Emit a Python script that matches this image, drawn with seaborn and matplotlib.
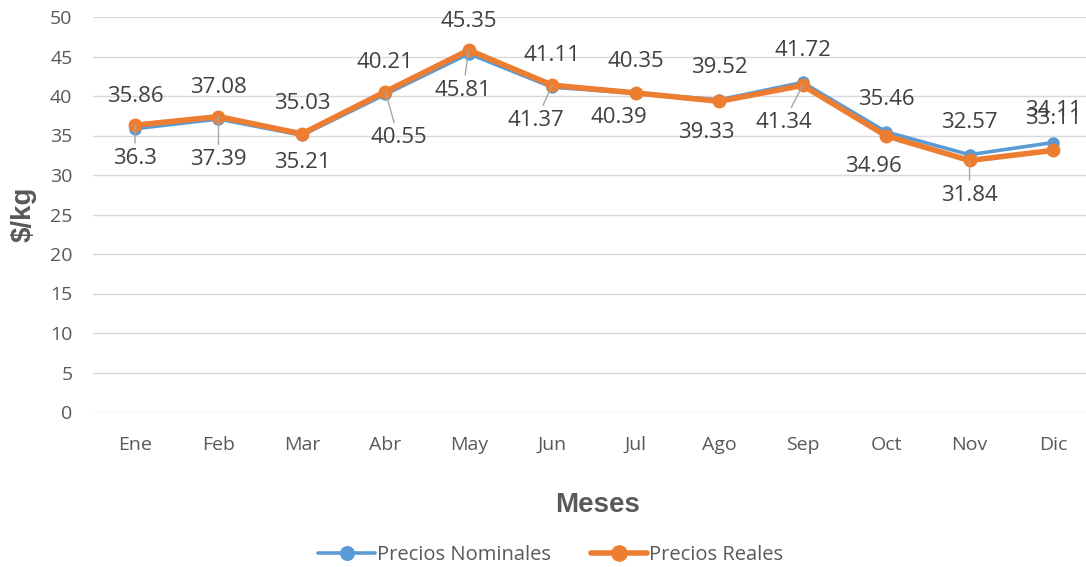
import numpy as np
import pandas as pd
import matplotlib
matplotlib.use('Agg')
import matplotlib.pyplot as plt
import seaborn as sns

# Datos
meses = ['Ene', 'Feb', 'Mar', 'Abr', 'May', 'Jun', 'Jul', 'Ago', 'Sep', 'Oct', 'Nov', 'Dic']
precios_nominales = [35.86, 37.08, 35.03, 40.21, 45.35, 41.11, 40.35, 39.52, 41.72, 35.46, 32.57, 34.11]
precios_reales = [36.3, 37.39, 35.21, 40.55, 45.81, 41.37, 40.39, 39.33, 41.34, 34.96, 31.84, 33.11]

# Posicion de las etiquetas (pixeles) y si llevan linea guia
off_nom = [(0, 32)] * 12
off_real = [(0, -33), (0, -43), (0, -29), (13, -46), (-6, -40), (-16, -35),
            (-17, -25), (-13, -31), (-19, -37), (-13, -31), (0, -35), (0, 32)]
guia_real = [True, True, False, True, True, True, False, False, True, False, True, False]

sns.set_theme(style='white')
plt.rcParams['font.family'] = ['Open Sans', 'DejaVu Sans']

df = pd.DataFrame({
    'pos': np.arange(len(meses)),
    'Precios Nominales': precios_nominales,
    'Precios Reales': precios_reales,
})

fig = plt.figure(figsize=(10.86, 5.67), dpi=100)
ax = fig.add_axes([93.3 / 1086, 155 / 567, 1001.4 / 1086, 395 / 567])

azul = '#5B9BD5'
naranja = '#ED7D31'

sns.lineplot(data=df, x='pos', y='Precios Nominales', ax=ax, color=azul, lw=2.6,
             marker='o', markersize=9, markeredgewidth=0, label='Precios Nominales', sort=False)
sns.lineplot(data=df, x='pos', y='Precios Reales', ax=ax, color=naranja, lw=4,
             marker='o', markersize=10, markeredgewidth=0, label='Precios Reales', sort=False)

ax.set_xlim(-0.5, len(meses) - 0.5)
ax.set_ylim(0, 50)
ax.set_yticks(range(0, 51, 5))
ax.set_xticks(df['pos'])
ax.set_xticklabels(meses)
ax.tick_params(axis='both', length=0, labelsize=14, labelcolor='#595959')
ax.tick_params(axis='y', pad=15)
ax.tick_params(axis='x', pad=17)
ax.yaxis.grid(True, color='#d9d9d9', lw=1)
ax.xaxis.grid(False)
for s in ax.spines.values():
    s.set_visible(False)

ax.set_xlabel('')
ax.set_ylabel('')
fig.text(24 / 1086, 1 - 214 / 567, '$/kg', rotation=90, ha='center', va='center',
         fontsize=20, fontweight='bold', color='#595959', family='Liberation Sans')
fig.text(598 / 1086, 1 - 505 / 567, 'Meses', ha='center', va='center',
         fontsize=20, fontweight='bold', color='#595959', family='Liberation Sans')

for i, v in enumerate(precios_nominales):
    ax.annotate(f'{v:g}', xy=(i, v), xytext=off_nom[i], textcoords='offset pixels',
                ha='center', va='center', fontsize=16, color='#404040')
for i, v in enumerate(precios_reales):
    props = None
    if guia_real[i]:
        props = dict(arrowstyle='-', color='#a6a6a6', lw=1, shrinkA=1, shrinkB=0)
    ax.annotate(f'{v:g}', xy=(i, v), xytext=off_real[i], textcoords='offset pixels',
                ha='center', va='center', fontsize=16, color='#404040', arrowprops=props)

ax.legend(loc='center', bbox_to_anchor=(551 / 1086, 12 / 567), bbox_transform=fig.transFigure,
          ncol=2, frameon=False, fontsize=14.5, handlelength=2.8, handletextpad=0.1,
          columnspacing=2.0, labelcolor='#595959', markerscale=1.2)

fig.savefig('out.png', dpi=100)
